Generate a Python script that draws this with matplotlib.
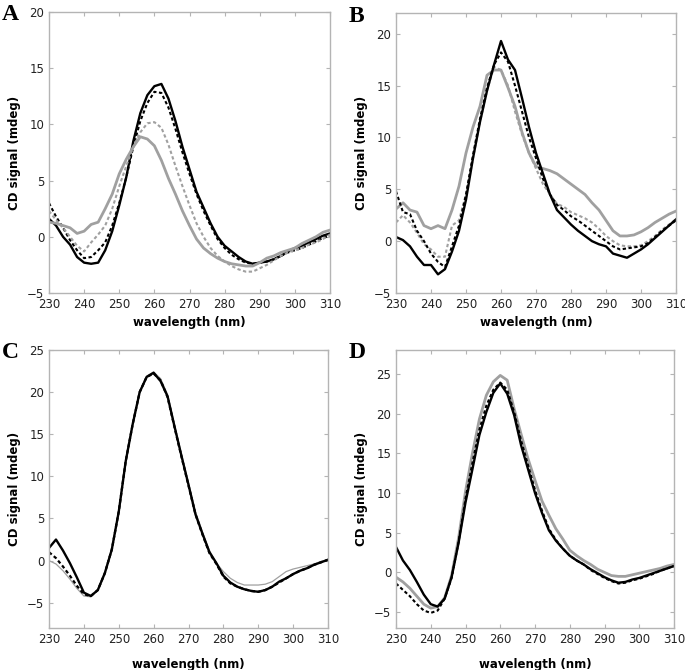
import matplotlib
matplotlib.use("Agg")
import matplotlib.pyplot as plt

# wavelength grid (nm)
wl = list(range(230, 311, 2))

# panel A
a_black = [1.6, 1.0, 0.0, -0.7, -1.8, -2.3, -2.4, -2.3, -1.2, 0.5, 2.8, 5.3, 8.5, 11.0, 12.6, 13.4, 13.6, 12.3, 10.3, 8.0,
           6.0, 4.0, 2.6, 1.2, 0.0, -0.8, -1.3, -1.8, -2.2, -2.4, -2.3, -2.2, -2.0, -1.7, -1.3, -1.0, -0.8, -0.5, -0.2, 0.1, 0.3]
a_black_dot = [3.0, 1.8, 0.8, -0.3, -1.2, -1.9, -1.8, -1.2, -0.5, 1.0, 3.0, 5.3, 8.0, 10.3, 11.9, 12.9, 12.8, 11.5, 9.6, 7.5,
               5.6, 3.8, 2.3, 1.0, -0.2, -1.0, -1.6, -2.0, -2.3, -2.4, -2.3, -2.2, -2.0, -1.7, -1.4, -1.2, -1.0, -0.7, -0.4, -0.1, 0.1]
a_gray_dot = [2.3, 1.5, 0.8, 0.0, -0.8, -1.3, -0.5, 0.2, 1.0, 2.5, 4.5, 6.3, 8.0, 9.3, 10.1, 10.2, 9.7, 8.2, 6.3, 4.5,
              2.8, 1.2, 0.0, -1.0, -1.7, -2.2, -2.6, -2.9, -3.1, -3.1, -2.8, -2.5, -2.1, -1.7, -1.4, -1.2, -1.0, -0.7, -0.5, -0.2, 0.2]
a_gray = [1.3, 1.2, 1.0, 0.8, 0.3, 0.5, 1.1, 1.3, 2.5, 3.8, 5.6, 6.9, 8.0, 8.9, 8.7, 8.1, 6.8, 5.2, 3.8, 2.3,
          1.0, -0.2, -1.0, -1.5, -1.9, -2.2, -2.4, -2.5, -2.6, -2.6, -2.3, -1.9, -1.7, -1.4, -1.2, -1.0, -0.6, -0.3, 0.0, 0.4, 0.6]

# panel B
b_black = [0.4, 0.1, -0.5, -1.5, -2.3, -2.3, -3.2, -2.7, -1.0, 1.0, 4.0, 8.0, 11.5, 14.5, 17.0, 19.3, 17.5, 16.5, 13.8, 11.0,
           8.5, 6.5, 4.5, 3.0, 2.3, 1.6, 1.0, 0.5, 0.0, -0.3, -0.5, -1.2, -1.4, -1.6, -1.2, -0.8, -0.3, 0.3, 0.9, 1.5, 2.1]
b_black_dot = [4.8, 2.8, 2.6, 1.0, 0.0, -1.2, -2.0, -2.5, -0.5, 1.5, 4.5, 8.3, 11.8, 14.8, 17.0, 18.2, 17.3, 15.0, 12.5, 10.0,
               8.0, 6.0, 4.5, 3.5, 3.0, 2.4, 2.0, 1.5, 1.0, 0.5, 0.0, -0.5, -0.8, -0.7, -0.6, -0.5, -0.2, 0.4, 1.0, 1.5, 2.0]
b_gray_dot = [1.8, 2.5, 1.8, 0.8, -0.3, -0.8, -1.5, -1.5, 1.5, 2.0, 4.5, 8.0, 11.5, 14.5, 16.8, 16.5, 15.0, 12.5, 10.3, 8.5,
              7.0, 5.5, 4.5, 3.6, 3.3, 2.8, 2.5, 2.2, 1.8, 1.2, 0.5, 0.0, -0.4, -0.5, -0.5, -0.4, 0.0, 0.5, 1.1, 1.6, 2.1]
b_gray = [3.1, 3.7, 3.0, 2.8, 1.5, 1.2, 1.5, 1.2, 3.0, 5.3, 8.5, 11.0, 13.0, 16.0, 16.5, 16.5, 14.8, 13.0, 10.5, 8.5,
          7.2, 7.0, 6.8, 6.5, 6.0, 5.5, 5.0, 4.5, 3.7, 3.0, 2.0, 1.0, 0.5, 0.5, 0.6, 0.9, 1.3, 1.8, 2.2, 2.6, 2.9]

# panel C
c_black = [1.5, 2.5, 1.2, -0.3, -2.0, -3.8, -4.2, -3.5, -1.5, 1.3, 5.8, 11.8, 16.2, 20.0, 21.8, 22.3, 21.3, 19.5, 15.9, 12.4,
           9.0, 5.5, 3.2, 1.0, -0.3, -1.8, -2.6, -3.1, -3.4, -3.6, -3.7, -3.5, -3.1, -2.5, -2.1, -1.6, -1.2, -0.9, -0.5, -0.2, 0.1]
c_black_dot = [1.0, 0.3, -0.7, -1.8, -3.0, -4.0, -4.2, -3.5, -1.5, 1.3, 5.8, 11.8, 16.2, 20.0, 21.8, 22.2, 21.4, 19.4, 15.8, 12.3,
               8.9, 5.5, 3.1, 0.9, -0.4, -1.9, -2.7, -3.1, -3.4, -3.6, -3.7, -3.5, -3.1, -2.6, -2.1, -1.6, -1.2, -0.9, -0.5, -0.2, 0.1]
c_gray = [0.0, -0.4, -1.2, -2.2, -3.3, -4.2, -4.3, -3.4, -1.4, 1.4, 5.9, 11.9, 16.3, 20.1, 21.9, 22.4, 21.6, 19.7, 16.1, 12.6,
          9.2, 5.8, 3.4, 1.2, -0.3, -1.3, -2.1, -2.6, -2.9, -2.9, -2.9, -2.8, -2.5, -1.9, -1.3, -1.0, -0.8, -0.6, -0.4, -0.1, 0.1]

# panel D
d_black = [3.2, 1.5, 0.3, -1.2, -2.8, -4.0, -4.3, -3.3, -0.6, 3.7, 8.8, 13.0, 17.3, 20.2, 22.6, 23.8, 22.5, 19.8, 16.0, 13.0,
           10.0, 7.5, 5.3, 4.0, 3.0, 2.1, 1.5, 1.0, 0.4, -0.1, -0.6, -1.0, -1.3, -1.2, -0.9, -0.7, -0.4, -0.1, 0.2, 0.5, 0.8]
d_black_dot = [-1.4, -2.2, -3.0, -4.0, -4.8, -5.1, -4.8, -3.3, -0.7, 3.8, 9.3, 13.8, 18.0, 21.0, 23.0, 23.9, 23.0, 20.2, 16.6, 13.5,
               10.4, 7.8, 5.5, 4.1, 3.0, 2.1, 1.5, 1.0, 0.3, -0.2, -0.7, -1.1, -1.4, -1.3, -1.0, -0.8, -0.5, -0.2, 0.2, 0.5, 0.8]
d_gray = [-0.6, -1.2, -2.0, -3.0, -4.0, -4.5, -4.3, -3.2, -0.4, 4.3, 10.2, 15.0, 19.3, 22.3, 24.0, 24.8, 24.2, 20.6, 17.4, 14.3,
          11.6, 9.0, 7.2, 5.5, 4.2, 2.8, 2.1, 1.5, 1.0, 0.4, 0.0, -0.4, -0.5, -0.5, -0.3, -0.1, 0.1, 0.3, 0.5, 0.8, 1.0]

frame = '#b4b4b4'
gray = '#a0a0a0'
dot = (0, (1.6, 1.2))

fig = plt.figure(figsize=(6.85, 6.70), dpi=100)

panels = [
    ('A', [49/685, 1-293/670, 281/685, 281/670], (-5, 20), [-5, 0, 5, 10, 15, 20],
     [(a_black, 'k', '-', 1.7), (a_black_dot, 'k', dot, 1.5), (a_gray_dot, gray, dot, 1.5), (a_gray, gray, '-', 2.0)], 4),
    ('B', [396/685, 1-293/670, 280/685, 280/670], (-5, 22), [-5, 0, 5, 10, 15, 20],
     [(b_gray, gray, '-', 2.0), (b_gray_dot, gray, dot, 1.5), (b_black_dot, 'k', dot, 1.5), (b_black, 'k', '-', 1.7)], 4),
    ('C', [49/685, 1-628/670, 279/685, 278/670], (-8, 25), [-5, 0, 5, 10, 15, 20, 25],
     [(c_gray, gray, '-', 0.9), (c_black_dot, 'k', dot, 1.6), (c_black, 'k', '-', 1.7)], 9),
    ('D', [396/685, 1-628/670, 278/685, 278/670], (-7, 28), [-5, 0, 5, 10, 15, 20, 25],
     [(d_gray, gray, '-', 2.0), (d_black_dot, 'k', dot, 1.5), (d_black, 'k', '-', 1.7)], 9),
]

for letter, pos, ylim, yt, series, xpad in panels:
    ax = fig.add_axes(pos)
    for ys, col, ls, lw in series:
        ax.plot(wl, ys, color=col, linestyle=ls, linewidth=lw)
    ax.set_xlim(230, 310)
    ax.set_ylim(*ylim)
    ax.set_xticks(range(230, 311, 10))
    ax.set_yticks(yt)
    ax.tick_params(direction='in', length=3, width=0.8, color=frame, labelsize=8.5,
                   top=True, right=True, labelcolor='#222222')
    for s in ax.spines.values():
        s.set_color(frame)
        s.set_linewidth(1.0)
    ax.set_xlabel('wavelength (nm)', fontsize=8.5, fontweight='bold', labelpad=xpad)
    ax.set_ylabel('CD signal (mdeg)', fontsize=8.5, fontweight='bold', labelpad=4)
    fig.text(pos[0] - 47/685, pos[1] + pos[3] - 3/670, letter, fontsize=17, fontweight='bold',
             family='Liberation Serif', va='center', ha='left')

plt.savefig('out.png', dpi=100)
